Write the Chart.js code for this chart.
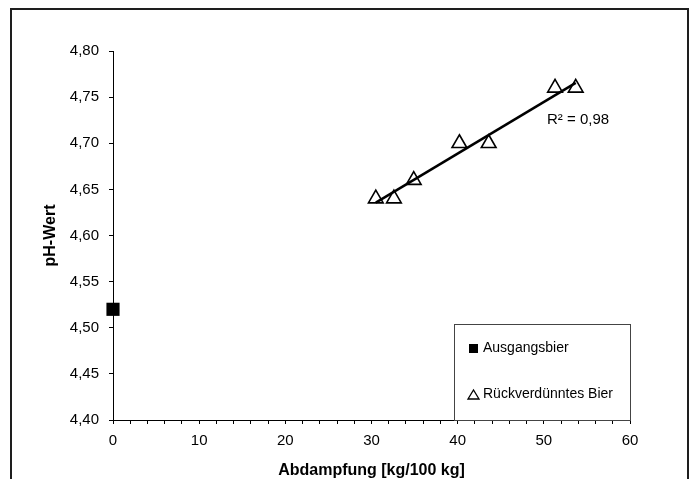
<!DOCTYPE html>
<html lang="de">
<head>
<meta charset="utf-8">
<title>pH-Wert / Abdampfung</title>
<script src="https://cdn.jsdelivr.net/npm/chart.js@4.4.1/dist/chart.umd.min.js"></script>
<style>
  html, body { margin: 0; padding: 0; background: #fff; overflow: hidden; }
  #wrap { position: relative; width: 695px; height: 479px; }
</style>
</head>
<body>
<div id="wrap"><canvas id="phChart"></canvas></div>
<script>
// Werte
const xTickLabels = [0, 10, 20, 30, 40, 50, 60];
const yTickLabels = [4.40, 4.45, 4.50, 4.55, 4.60, 4.65, 4.70, 4.75, 4.80];

const ausgangX = [0];
const ausgangPH = [4.52];

const rueckX = [30.5, 32.6, 34.9, 40.2, 43.6, 51.3, 53.7];
const rueckPH = [4.64, 4.64, 4.66, 4.70, 4.70, 4.76, 4.76];

const seriesNames = ['Ausgangsbier', 'Rückverdünntes Bier'];
const r2Label = 'R² = 0,98';

const FONT = '"Liberation Sans", Arial, sans-serif';

// lineare Trendlinie (kleinste Quadrate) durch die rückverdünnten Proben
function trend(xs, ys) {
  const n = xs.length;
  const mx = xs.reduce((a, b) => a + b, 0) / n;
  const my = ys.reduce((a, b) => a + b, 0) / n;
  let sxy = 0, sxx = 0;
  for (let i = 0; i < n; i++) {
    sxy += (xs[i] - mx) * (ys[i] - my);
    sxx += (xs[i] - mx) * (xs[i] - mx);
  }
  const k = sxy / sxx;
  const d = my - k * mx;
  const x0 = Math.min(...xs), x1 = Math.max(...xs);
  return [{ x: x0, y: k * x0 + d }, { x: x1, y: k * x1 + d }];
}

const toPoints = (xs, ys) => xs.map((v, i) => ({ x: v, y: ys[i] }));

const extras = {
  id: 'extras',
  afterDraw(chart) {
    const ctx = chart.ctx;
    const area = chart.chartArea;
    ctx.save();

    // Rahmen um die ganze Abbildung
    ctx.strokeStyle = '#1e1e1e';
    ctx.lineWidth = 2;
    ctx.beginPath();
    ctx.moveTo(11, 490);
    ctx.lineTo(11, 9);
    ctx.lineTo(688, 9);
    ctx.lineTo(688, 490);
    ctx.stroke();

    // Bestimmtheitsmass
    ctx.fillStyle = '#000';
    ctx.font = '15px ' + FONT;
    ctx.textAlign = 'left';
    ctx.textBaseline = 'alphabetic';
    ctx.fillText(r2Label, 547, 124);

    // Legende rechts unten im Diagramm
    const bw = 176, bh = 96;
    const bx = area.right - bw, by = area.bottom - bh;
    ctx.strokeStyle = '#444';
    ctx.lineWidth = 1;
    ctx.strokeRect(Math.round(bx) + 0.5, Math.round(by) + 0.5, bw, bh);

    ctx.textBaseline = 'middle';
    ctx.font = '14px ' + FONT;
    const row1 = by + 24, row2 = by + 70;
    ctx.fillStyle = '#000';
    ctx.fillRect(bx + 15, row1 - 4, 9, 9);
    ctx.fillText(seriesNames[0], bx + 29, row1);

    ctx.beginPath();
    ctx.moveTo(bx + 14, row2 + 5);
    ctx.lineTo(bx + 25, row2 + 5);
    ctx.lineTo(bx + 19.5, row2 - 4);
    ctx.closePath();
    ctx.lineWidth = 1.3;
    ctx.strokeStyle = '#000';
    ctx.stroke();
    ctx.fillText(seriesNames[1], bx + 29, row2);

    ctx.restore();
  }
};

const ctx = document.getElementById('phChart').getContext('2d');

new Chart(ctx, {
  type: 'scatter',
  data: {
    datasets: [
      {
        label: 'Trend',
        type: 'line',
        data: trend(rueckX, rueckPH),
        borderColor: '#000',
        borderWidth: 2.5,
        pointRadius: 0,
        fill: false
      },
      {
        label: seriesNames[1],
        data: toPoints(rueckX, rueckPH),
        pointStyle: 'triangle',
        pointRadius: 8.5,
        borderColor: '#000',
        borderWidth: 1.6,
        backgroundColor: 'rgba(255,255,255,0)'
      },
      {
        label: seriesNames[0],
        data: toPoints(ausgangX, ausgangPH),
        pointStyle: 'rect',
        pointRadius: 9.3,
        borderColor: '#000',
        borderWidth: 0,
        backgroundColor: '#000'
      }
    ]
  },
  options: {
    responsive: true,
    maintainAspectRatio: false,
    animation: false,
    clip: false,
    layout: {
      padding: { left: 0, right: 65, top: 51, bottom: 0 }
    },
    plugins: {
      legend: { display: false },
      tooltip: { enabled: false }
    },
    scales: {
      x: {
        type: 'linear',
        min: 0,
        max: 60,
        afterFit: function (scale) { scale.height = 59; },
        grid: {
          drawOnChartArea: false,
          drawTicks: true,
          tickLength: 4,
          color: '#000'
        },
        border: { display: true, color: '#000', width: 1 },
        ticks: {
          stepSize: 2,
          autoSkip: false,
          maxRotation: 0,
          padding: 8,
          color: '#000',
          font: { family: FONT, size: 15 },
          callback: function (value) {
            return xTickLabels.includes(value) ? String(value) : '';
          }
        },
        title: {
          display: true,
          text: 'Abdampfung [kg/100 kg]',
          color: '#000',
          font: { family: FONT, size: 16, weight: 'bold', lineHeight: 1 },
          padding: { top: 0, bottom: 0 }
        }
      },
      y: {
        min: 4.4,
        max: 4.8,
        afterFit: function (scale) { scale.width = 113; },
        grid: {
          drawOnChartArea: false,
          drawTicks: true,
          tickLength: 4,
          color: '#000'
        },
        border: { display: true, color: '#000', width: 1 },
        ticks: {
          stepSize: 0.05,
          padding: 10,
          color: '#000',
          font: { family: FONT, size: 15 },
          callback: function (value) {
            const hit = yTickLabels.find(t => Math.abs(t - value) < 1e-6);
            return hit === undefined ? '' : hit.toFixed(2).replace('.', ',');
          }
        },
        title: {
          display: true,
          text: 'pH-Wert',
          color: '#000',
          font: { family: FONT, size: 16, weight: 'bold', lineHeight: 1 },
          padding: { top: 43, bottom: 0 }
        }
      }
    }
  },
  plugins: [extras]
});
</script>
</body>
</html>
